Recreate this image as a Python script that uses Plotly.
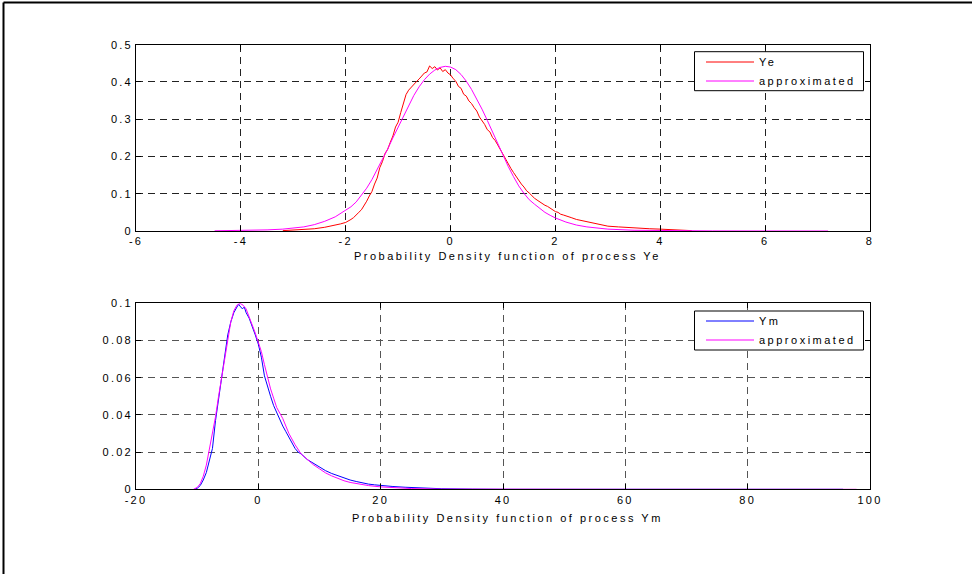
import plotly.graph_objects as go

# ---------------- data: process Ye ----------------
ye_x = [-3.2, -3.0, -2.8, -2.6, -2.4, -2.2, -2.1, -2.0, -1.95, -1.9, -1.85, -1.8, -1.75,
        -1.7, -1.65, -1.6, -1.55, -1.5, -1.45, -1.4, -1.35, -1.3, -1.25, -1.2, -1.15,
        -1.1, -1.05, -1.0, -0.95, -0.9, -0.85, -0.8, -0.75, -0.7, -0.65, -0.6, -0.55,
        -0.5, -0.45, -0.4, -0.35, -0.3, -0.25, -0.2, -0.15, -0.1, -0.05, 0.0, 0.05,
        0.1, 0.15, 0.2, 0.25, 0.3, 0.35, 0.4, 0.45, 0.5, 0.55, 0.6, 0.65, 0.7, 0.75,
        0.8, 0.85, 0.9, 0.95, 1.0, 1.05, 1.1, 1.15, 1.2, 1.25, 1.3, 1.35, 1.4, 1.45,
        1.5, 1.55, 1.6, 1.65, 1.7, 1.75, 1.8, 1.85, 1.9, 1.95, 2.0, 2.05, 2.1, 2.15,
        2.2, 2.3, 2.4, 2.5, 2.6, 2.7, 2.8, 2.9, 3.0, 3.2, 3.4, 3.6, 3.8, 4.0, 4.2,
        4.4, 4.6]
ye_pdf = [0.001, 0.002, 0.004, 0.006, 0.010, 0.015, 0.019, 0.023, 0.026, 0.031, 0.036,
          0.042, 0.050, 0.057, 0.068, 0.080, 0.094, 0.106, 0.126, 0.142, 0.170, 0.186,
          0.208, 0.219, 0.238, 0.255, 0.279, 0.292, 0.318, 0.340, 0.366, 0.378, 0.386,
          0.396, 0.401, 0.408, 0.415, 0.424, 0.427, 0.443, 0.436, 0.441, 0.432, 0.438,
          0.428, 0.433, 0.424, 0.419, 0.409, 0.402, 0.388, 0.383, 0.367, 0.362, 0.349,
          0.342, 0.331, 0.322, 0.306, 0.297, 0.286, 0.272, 0.266, 0.251, 0.243, 0.231,
          0.218, 0.204, 0.193, 0.178, 0.168, 0.157, 0.146, 0.137, 0.126, 0.118, 0.108,
          0.102, 0.094, 0.088, 0.083, 0.078, 0.074, 0.069, 0.066, 0.061, 0.057, 0.052,
          0.050, 0.045, 0.043, 0.040, 0.036, 0.031, 0.028, 0.024, 0.021, 0.018, 0.015,
          0.013, 0.011, 0.009, 0.008, 0.006, 0.005, 0.003, 0.002, 0.001]

ye_fit_x = [-4.5, -4.0, -3.5, -3.2, -3.0, -2.8, -2.6, -2.4, -2.2, -2.0, -1.9, -1.8, -1.7,
            -1.6, -1.5, -1.4, -1.3, -1.2, -1.1, -1.0, -0.9, -0.8, -0.7, -0.6, -0.5, -0.4,
            -0.3, -0.2, -0.1, 0.0, 0.1, 0.2, 0.3, 0.4, 0.5, 0.6, 0.7, 0.8, 0.9, 1.0, 1.1,
            1.2, 1.3, 1.4, 1.5, 1.6, 1.7, 1.8, 1.9, 2.0, 2.2, 2.4, 2.6, 2.8, 3.0, 3.5,
            4.0, 5.0, 6.0, 7.2]
ye_fit = [0.0005, 0.001, 0.003, 0.005, 0.007, 0.011, 0.017, 0.026, 0.038, 0.055, 0.065,
          0.078, 0.095, 0.115, 0.138, 0.164, 0.191, 0.220, 0.250, 0.279, 0.309, 0.338,
          0.364, 0.387, 0.406, 0.421, 0.432, 0.439, 0.442, 0.440, 0.433, 0.420, 0.402,
          0.380, 0.355, 0.327, 0.297, 0.266, 0.234, 0.203, 0.173, 0.146, 0.121, 0.101,
          0.084, 0.072, 0.060, 0.050, 0.042, 0.035, 0.024, 0.016, 0.011, 0.007, 0.005,
          0.002, 0.0008, 0.0003, 0.0001, 0.0]

# ---------------- data: process Ym ----------------
ym_x = [-10.4, -10.0, -9.5, -9.0, -8.5, -8.0, -7.5, -7.0, -6.5, -6.0, -5.5, -5.0, -4.5,
        -4.0, -3.5, -3.2, -3.0, -2.8, -2.6, -2.3, -2.0, -1.5, -1.0, -0.5, 0.0, 0.5, 1.0,
        1.5, 2.0, 2.5, 3.0, 3.5, 4.0, 4.5, 5.0, 5.5, 6.0, 6.5, 7.0, 8.0, 9.0, 10.0, 11.0,
        12.0, 13.0, 14.0, 15.0, 16.0, 17.0, 18.0, 19.0, 20.0, 22.0, 24.0, 26.0, 28.0,
        30.0, 35.0, 40.0, 60.0, 80.0, 95.6]
ym_pdf = [0.0, 0.0005, 0.002, 0.005, 0.009, 0.015, 0.022, 0.037, 0.049, 0.060, 0.072,
          0.083, 0.090, 0.095, 0.098, 0.0995, 0.0985, 0.0975, 0.097, 0.098, 0.095, 0.092,
          0.088, 0.083, 0.078, 0.071, 0.061, 0.055, 0.050, 0.045, 0.041, 0.037, 0.034,
          0.031, 0.028, 0.025, 0.022, 0.020, 0.019, 0.016, 0.014, 0.012, 0.010, 0.0085,
          0.0072, 0.006, 0.005, 0.0042, 0.0034, 0.0028, 0.0024, 0.002, 0.0015, 0.0011,
          0.0008, 0.0005, 0.0003, 0.0001, 0.0, 0.0, 0.0, 0.0]

ym_fit_x = [-10.6, -10.0, -9.5, -9.0, -8.5, -8.0, -7.5, -7.0, -6.5, -6.0, -5.5, -5.0,
            -4.5, -4.0, -3.5, -3.0, -2.5, -2.0, -1.5, -1.0, -0.5, 0.0, 0.5, 1.0, 1.5,
            2.0, 2.5, 3.0, 3.5, 4.0, 5.0, 6.0, 7.0, 8.0, 9.0, 10.0, 11.0, 12.0, 13.0,
            14.0, 15.0, 16.0, 17.0, 18.0, 20.0, 22.0, 25.0, 30.0, 40.0, 60.0, 80.0, 97.8]
ym_fit = [0.0, 0.001, 0.003, 0.007, 0.013, 0.021, 0.030, 0.039, 0.050, 0.060, 0.071,
          0.082, 0.090, 0.096, 0.099, 0.100, 0.099, 0.097, 0.093, 0.089, 0.084, 0.079,
          0.074, 0.067, 0.060, 0.054, 0.049, 0.044, 0.041, 0.038, 0.030, 0.024, 0.019,
          0.016, 0.0132, 0.011, 0.0088, 0.0072, 0.0057, 0.0046, 0.0037, 0.0030, 0.0025,
          0.002, 0.0013, 0.0008, 0.0004, 0.0001, 0.0, 0.0, 0.0, 0.0]

# ---------------- ticks ----------------
top_xticks = [-6, -4, -2, 0, 2, 4, 6, 8]
top_xlabels = ["-6", "-4", "-2", "0", "2", "4", "6", "8"]
top_yticks = [0, 0.1, 0.2, 0.3, 0.4, 0.5]
top_ylabels = ["0", "0.1", "0.2", "0.3", "0.4", "0.5"]
bot_xticks = [-20, 0, 20, 40, 60, 80, 100]
bot_xlabels = ["-20", "0", "20", "40", "60", "80", "100"]
bot_yticks = [0, 0.02, 0.04, 0.06, 0.08, 0.1]
bot_ylabels = ["0", "0.02", "0.04", "0.06", "0.08", "0.1"]

W, H = 972, 574
FONT = "Liberation Sans, Arial, sans-serif"


def spaced(s, px=2.2):
    return f'<span style="letter-spacing:{px}px">{s}</span>'


def px_x(v):
    return v / W


def px_y(v):
    return 1 - v / H


XDOM = [px_x(136), px_x(870)]
TOP_YDOM = [px_y(231), px_y(44.7)]
BOT_YDOM = [px_y(489.3), px_y(303.3)]

fig = go.Figure()
fig.add_trace(go.Scatter(x=ye_x, y=ye_pdf, mode="lines", name=spaced("Ye", 2.5),
                         line=dict(color="#ff0000", width=1), xaxis="x", yaxis="y",
                         legend="legend"))
fig.add_trace(go.Scatter(x=ye_fit_x, y=ye_fit, mode="lines",
                         name=spaced("approximated", 2.5),
                         line=dict(color="#ff00ff", width=1), xaxis="x", yaxis="y",
                         legend="legend"))
fig.add_trace(go.Scatter(x=ym_x, y=ym_pdf, mode="lines", name=spaced("Ym", 2.5),
                         line=dict(color="#0000ff", width=1), xaxis="x2", yaxis="y2",
                         legend="legend2"))
fig.add_trace(go.Scatter(x=ym_fit_x, y=ym_fit, mode="lines",
                         name=spaced("approximated", 2.5),
                         line=dict(color="#ff00ff", width=1), xaxis="x2", yaxis="y2",
                         legend="legend2"))


def axis(domain, rng, vals, labels, anchor, gridcolor):
    return dict(domain=domain, range=rng, tickvals=vals,
                ticktext=[spaced(t) for t in labels], anchor=anchor,
                automargin=False,
                showline=True, linecolor="black", linewidth=1, mirror="ticks",
                ticks="inside", ticklen=5, tickwidth=1, tickcolor="black",
                showgrid=True, gridcolor=gridcolor, gridwidth=1, griddash="7px,5px",
                zeroline=False, tickfont=dict(family=FONT, size=11, color="black"))


fig.update_layout(
    width=W, height=H,
    margin=dict(l=0, r=0, t=0, b=0, autoexpand=False),
    paper_bgcolor="white", plot_bgcolor="white",
    font=dict(family=FONT, size=11, color="black"),
    xaxis=axis(XDOM, [-6, 8], top_xticks, top_xlabels, "y", "#222222"),
    yaxis=axis(TOP_YDOM, [0, 0.5], top_yticks, top_ylabels, "x", "#222222"),
    xaxis2=axis(XDOM, [-20, 100], bot_xticks, bot_xlabels, "y2", "#555555"),
    yaxis2=axis(BOT_YDOM, [0, 0.1], bot_yticks, bot_ylabels, "x2", "#555555"),
    legend=dict(x=px_x(701), y=px_y(47.5), xanchor="left", yanchor="top",
                bgcolor="rgba(0,0,0,0)", borderwidth=0, itemwidth=48,
                font=dict(family=FONT, size=11, color="black")),
    legend2=dict(x=px_x(701), y=px_y(306.5), xanchor="left", yanchor="top",
                 bgcolor="rgba(0,0,0,0)", borderwidth=0, itemwidth=48,
                 font=dict(family=FONT, size=11, color="black")),
    showlegend=True,
)

# axis captions
fig.add_annotation(text=spaced("Probability Density function of process Ye", 2.5),
                   x=px_x(508), y=px_y(256), xref="paper", yref="paper",
                   showarrow=False, xanchor="center", yanchor="middle",
                   font=dict(family=FONT, size=11, color="black"))
fig.add_annotation(text=spaced("Probability Density function of process Ym", 2.5),
                   x=px_x(508), y=px_y(518), xref="paper", yref="paper",
                   showarrow=False, xanchor="center", yanchor="middle",
                   font=dict(family=FONT, size=11, color="black"))

# legend frames
for top, bottom in [(51.7, 90.7), (311.0, 350.0)]:
    fig.add_shape(type="rect", xref="paper", yref="paper",
                  x0=px_x(694.5), x1=px_x(863.5), y0=px_y(bottom), y1=px_y(top),
                  line=dict(color="black", width=1), fillcolor="white", layer="above")

# figure frame (top and left edges)
fig.add_shape(type="line", xref="paper", yref="paper", x0=px_x(3.5), x1=1.0,
              y0=px_y(2.5), y1=px_y(2.5), line=dict(color="black", width=2))
fig.add_shape(type="line", xref="paper", yref="paper", x0=px_x(3.5), x1=px_x(3.5),
              y0=px_y(2.5), y1=0.0, line=dict(color="black", width=2))

fig.write_html("out.html")
